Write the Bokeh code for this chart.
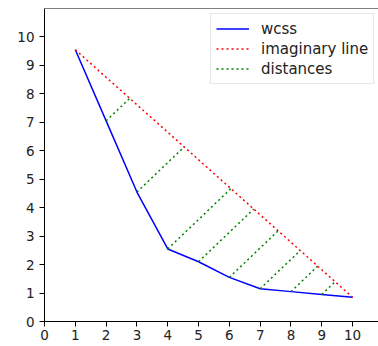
import numpy as np
from bokeh.plotting import figure
from bokeh.models import FixedTicker, Span, Legend
from bokeh.embed import file_html
from bokeh.resources import INLINE

# data
k_values = [1, 2, 3, 4, 5, 6, 7, 8, 9, 10]
wcss = [9.55, 7.05, 4.55, 2.55, 2.1, 1.55, 1.15, 1.05, 0.95, 0.85]
x_ticks = [0, 1, 2, 3, 4, 5, 6, 7, 8, 9, 10]
y_ticks = [0, 1, 2, 3, 4, 5, 6, 7, 8, 9, 10]

# imaginary line endpoints (first & last point of the curve)
line_x = [k_values[0], k_values[-1]]
line_y = [wcss[0], wcss[-1]]

# perpendicular feet from interior points onto the imaginary line
ax, ay = line_x[0], line_y[0]
dx, dy = line_x[1] - ax, line_y[1] - ay
den = dx * dx + dy * dy
x0s, y0s, x1s, y1s = [], [], [], []
for xk, yk in zip(k_values[1:-1], wcss[1:-1]):
    t = ((xk - ax) * dx + (yk - ay) * dy) / den
    x0s.append(xk)
    y0s.append(yk)
    x1s.append(ax + t * dx)
    y1s.append(ay + t * dy)

FONT = "DejaVu Sans"

p = figure(width=378, height=346, output_backend="svg", toolbar_location=None,
           x_range=(0, 10.84), y_range=(0, 11),
           min_border_left=44, min_border_right=0, min_border_top=8,
           min_border_bottom=25)
p.outline_line_color = None
p.xgrid.visible = False
p.ygrid.visible = False
p.background_fill_color = "white"
p.border_fill_color = "white"

l1 = p.line(k_values, wcss, line_color="blue", line_width=1.5)
l2 = p.line(line_x, line_y, line_color="red", line_width=1.5, line_dash="2 3")
l3 = p.segment(x0s, y0s, x1s, y1s, line_color="green", line_width=1.5, line_dash="2 3")

top = Span(location=11, dimension="width", line_color="black", line_width=1)
p.add_layout(top)

for axis, ticks in ((p.xaxis[0], x_ticks), (p.yaxis[0], y_ticks)):
    axis.ticker = FixedTicker(ticks=ticks)
    axis.minor_tick_line_color = None
    axis.major_tick_in = 0
    axis.major_tick_out = 5
    axis.axis_line_color = "black"
    axis.major_tick_line_color = "black"
    axis.major_label_text_font = FONT
    axis.major_label_text_font_size = "13.5px"
    axis.major_label_text_color = "#222222"
p.xaxis.major_label_standoff = 3
p.yaxis.major_label_standoff = 5

legend = Legend(items=[("wcss", [l1]), ("imaginary line", [l2]), ("distances", [l3])],
                location=(166, 237))
legend.label_text_font = FONT
legend.label_text_font_size = "15px"
legend.label_text_color = "#222222"
legend.glyph_width = 33
legend.glyph_height = 19
legend.label_height = 19
legend.label_standoff = 12
legend.spacing = 1
legend.padding = 5
legend.margin = 0
legend.border_line_color = "#d0d0d0"
legend.border_line_width = 1
legend.background_fill_alpha = 0.8
p.add_layout(legend)

open("out.html", "w").write(file_html(p, INLINE))
